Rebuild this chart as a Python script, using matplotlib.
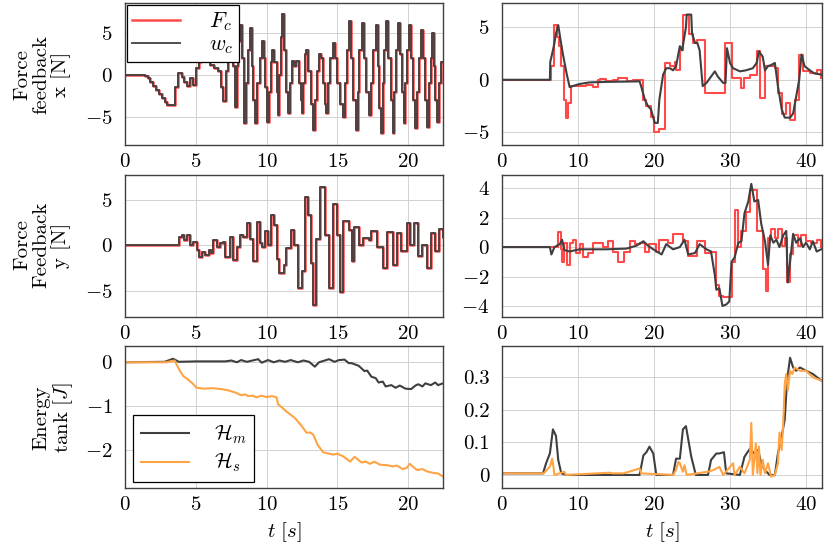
import matplotlib
matplotlib.use('Agg')
import matplotlib.pyplot as plt

plt.rcParams['font.family'] = 'serif'
plt.rcParams['font.serif'] = ['cmr10', 'DejaVu Serif']
plt.rcParams['mathtext.fontset'] = 'cm'
plt.rcParams['axes.formatter.use_mathtext'] = True
plt.rcParams['font.size'] = 15

# colours
RED = '#ff4a4a'
GRAY = '#3f3f3f'
ORANGE = '#ffa444'

# ---- data ----
# left column, 0..22 s : force feedback x (F_c and w_c overlap)
fx_l_t = [0, 1.4, 1.6, 1.8, 2.0, 2.2, 2.4, 2.6, 2.8, 3.0, 3.2, 3.5, 3.75, 4.0, 4.2, 4.4, 4.6, 4.8, 5.0, 5.2,
          5.4, 5.7, 6.0, 6.3, 6.6, 6.8, 6.95, 7.1, 7.3, 7.45, 7.6, 7.75, 7.9, 8.0, 8.1, 8.25, 8.4, 8.55,
          8.7, 8.8, 8.95, 9.05, 9.2, 9.35, 9.5, 9.65, 9.8, 9.9, 10.0, 10.15, 10.3, 10.4, 10.55, 10.7,
          10.8, 10.9, 11.0, 11.1, 11.25, 11.4, 11.5, 11.65, 11.8, 11.95, 12.1, 12.25, 12.4, 12.5, 12.6,
          12.7, 12.8, 12.95, 13.1, 13.25, 13.4, 13.55, 13.7, 13.85, 14.0, 14.1, 14.2, 14.35, 14.5, 14.7,
          14.85, 15.0, 15.15, 15.4, 15.5, 15.65, 15.8, 15.95, 16.1, 16.3, 16.45, 16.55, 16.7, 16.85,
          17.0, 17.2, 17.35, 17.5, 17.7, 17.85, 17.95, 18.05, 18.2, 18.3, 18.45, 18.6, 18.75, 18.9,
          19.0, 19.1, 19.25, 19.4, 19.55, 19.7, 19.8, 19.9, 20.05, 20.2, 20.3, 20.45, 20.6, 20.75, 20.9,
          21.05, 21.15, 21.3, 21.45, 21.6, 21.7, 21.8, 21.9, 22.0, 22.15, 22.3, 22.45]
fx_l_v = [0, -0.1, -0.4, -0.8, -1.3, -1.8, -2.3, -2.8, -3.3, -3.6, -3.6, -1.5, 0.2, -0.3, -0.9, -1.3, -0.4, -1.2,
          0.8, 1.5, 2.8, 1.8, 1.2, 0.8, 0.5, -1.5, -3.1, 0.5, 2.5, 4.0, 1.0, -3.8, 1.0, 4.0, 6.0, 2.0,
          -5.8, -1.0, 3.0, 5.6, 1.0, -3.0, -5.8, -1.0, 2.0, 4.0, 2.0, -1.5, -5.6, -2.0, 1.5, 3.0, 1.5,
          -2.0, -4.8, 0.0, 4.5, 7.3, 3.0, -2.0, -4.6, -1.0, 1.6, 1.0, 1.7, -1.0, -3.0, -4.6, -1.0, 2.5,
          3.0, 0.5, -3.5, -6.6, -3.0, 0.5, 2.5, 2.0, -1.0, -3.5, -4.6, -1.0, 2.0, 3.8, 2.0, -1.0, -3.5,
          -5.0, -1.0, 3.0, 6.4, 2.0, -3.0, -6.6, -2.0, 3.0, 6.2, 2.0, -2.0, -4.8, -1.0, 3.0, 6.0, 1.0,
          -4.0, -7.0, -1.0, 3.0, 6.4, 2.0, -3.0, -7.0, -2.0, 3.0, 6.2, 2.5, -2.0, -5.8, -1.0, 3.0, 6.0,
          2.0, -3.0, -6.4, -2.0, 2.0, 5.4, 2.0, -3.0, -6.2, -1.0, 2.0, 5.0, 1.0, -3.0, -5.6, -1.0, 1.5, 1.5]

# left column : force feedback y
fy_l_t = [0, 3.5, 3.8, 4.0, 4.2, 4.35, 4.6, 4.8, 5.06, 5.2, 5.45, 5.65, 5.9, 6.07, 6.24, 6.5, 6.7, 6.9,
          7.06, 7.4, 7.65, 7.9, 8.1, 8.35, 8.6, 8.8, 9.06, 9.3, 9.5, 9.7, 9.9, 10.1, 10.3, 10.5, 10.7,
          10.9, 11.2, 11.4, 11.7, 11.9, 12.2, 12.5, 12.7, 12.9, 13.1, 13.3, 13.5, 13.8, 14.1, 14.4,
          14.7, 15.0, 15.2, 15.4, 15.8, 16.0, 16.2, 16.5, 16.8, 17.2, 17.4, 17.8, 18.2, 18.5, 18.9,
          19.2, 19.5, 19.9, 20.1, 20.4, 20.7, 21.0, 21.3, 21.6, 21.9, 22.2, 22.45]
fy_l_v = [0, 0, 0.9, 1.1, 0.55, 1.1, 0.0, 0.35, -0.55, -1.3, -0.8, -1.1, -0.55, -0.9, 0.55, -0.2, 0.2, 0.35,
          -1.3, 0.9, -1.6, -0.2, 1.1, 0.9, 2.4, 0.7, -1.8, 2.55, 0.2, -0.2, 1.5, 0.0, 3.3, 2.2, -1.5,
          -3.1, -2.2, -0.3, 1.7, 0.0, -4.7, -2.8, 5.3, 3.3, -2.0, -6.6, 0.7, 6.4, 1.1, -4.7,
          4.5, 1.1, -5.1, 2.6, 1.7, -1.7, 2.0, 0.0, 0.8, 0.6, 1.6, -0.2, -2.5, 1.4, -2.2,
          1.3, -0.6, 2.4, 0.0, 2.4, -1.2, 0.0, -2.5, 1.3, -0.7, 1.8, 0.9]

# right column, 0..42 s : force feedback x
fx_r_red_t = [0, 6.3, 6.5, 6.9, 7.2, 7.5, 7.8, 8.1, 8.4, 8.7, 9.1, 9.8, 11.1, 12.0, 12.6, 12.9, 13.7,
              14.6, 15.3, 16.4, 17.2, 18.1, 18.5, 19.0, 19.6, 20.0, 20.7, 21.4, 22.1, 22.7, 22.9, 23.4,
              23.8, 24.5, 24.6, 25.1, 25.6, 26.0, 26.7, 28.2, 29.3, 30.2, 31.5, 31.9, 32.6, 33.5, 34.0,
              34.6, 35.2, 35.9, 36.3, 36.8, 37.4, 37.9, 38.5, 39.1, 39.6, 40.5, 41.4, 42.0]
fx_r_red_v = [0, 0, 1.3, 5.2, 4.1, 3.2, 1.3, -1.9, -3.6, -2.2, -0.6, -0.6, -0.5, -0.7, -0.05, 0.1, -0.15,
              0, 0.15, -0.1, 0, 0, -1.9, -2.5, -3.5, -5.0, -4.7, 1.6, 1.3, 1.7, 0.9, 2.8,
              6.2, 6.2, 4.4, 3.5, 3.8, 3.8, -1.3, -1.3, 3.5, 0.15, -0.8, 0.15, 0.5, 2.7, -1.7,
              1.3, 1.3, 1.1, -1.3, -3.3, -2.2, -3.8, -1.9, 2.4, 0.8, 0.6, 0.9, 0.15]
fx_r_gray_t = [0, 6.3, 6.35, 6.7, 6.9, 7.1, 7.4, 7.7, 8.0, 8.5, 8.9, 9.3, 10.2, 11.5, 13.7, 18.1, 18.3,
               18.8, 19.2, 19.6, 20.1, 20.5, 20.7, 21.2, 21.6, 22.1, 22.5, 22.9, 23.4, 23.7, 24.2, 24.3,
               24.9, 25.0, 25.4, 25.7, 26.0, 26.4, 26.9, 27.5, 28.0, 28.4, 29.1, 29.4, 29.6, 30.0, 30.4,
               31.3, 32.1, 33.0, 33.5, 33.8, 34.3, 34.6, 35.0, 35.4, 35.9, 36.3, 36.8, 37.2, 37.9, 38.3,
               38.7, 39.1, 39.4, 39.8, 40.5, 41.1, 42.0]
fx_r_gray_v = [0, 0, 1.7, 2.8, 3.5, 4.4, 5.2, 3.8, 2.5, 0.6, -0.7, -0.6, -0.4, -0.25, -0.2, -0.15, -0.6,
               -1.9, -2.5, -2.8, -4.1, -4.1, -1.9, 0.5, 1.1, 1.1, 0.9, 1.3, 3.2, 2.8, 5.0, 6.2,
               6.2, 4.4, 3.5, 3.5, 2.8, -0.6, -0.3, 0.3, 0.8, 0.3, -0.3, -0.3, 3.0, 1.6, 1.1,
               0.8, 0.9, 1.1, 1.6, 2.7, 2.2, 0.9, 1.3, 1.4, 1.6, -0.6, -2.8, -3.6, -3.6, -3.2,
               -1.6, 0.0, 2.4, 1.3, 0.9, 0.6, 0.5]

# right column : force feedback y
fy_r_red_t = [0, 7.2, 7.4, 7.7, 7.9, 8.2, 8.6, 8.9, 9.3, 9.7, 10.2, 10.7, 11.3, 12.0, 13.3, 13.9, 14.6,
              15.3, 16.1, 16.8, 17.5, 18.1, 18.8, 19.4, 20.3, 20.7, 21.8, 22.5, 23.8, 24.5, 25.6, 26.0,
              26.7, 27.5, 28.2, 28.6, 29.1, 30.0, 30.2, 30.6, 31.1, 31.5, 32.1, 32.6, 33.2, 33.5, 33.9,
              34.3, 34.7, 35.0, 35.4, 35.9, 36.3, 36.8, 37.2, 37.5, 37.9, 38.3, 38.9, 39.4, 40.0, 40.7,
              41.4, 42.0]
fy_r_red_v = [0, 0, 1.0, -0.15, -1.0, 0.3, -1.2, 0.3, 0.5, -0.4, 0.2, -0.7, -0.4, 0.3, 0, 0.4, -0.3,
              -1.0, -0.3, 0.4, 0.2, 0.3, -0.3, 0.2, -0.3, 0.5, 0.3, 0.9, 0.4, -0.6, 0.4, 0.4,
              -0.4, -0.3, -2.6, -3.3, -3.4, -3.4, -1.0, 2.5, 0, 1.1, 2.4, 3.9, 3.9, 1.1, 1.1,
              -1.5, -3.0, 0.6, 1.2, 0.6, 1.2, 0.1, 0.6, -2.4, -0.5, 0.8, 0.1, 0.8, 0.4, 0.3,
              0.5, 0]
fy_r_gray_t = [0, 6.3, 6.5, 6.9, 7.6, 7.9, 8.2, 8.9, 10.2, 13.7, 16.4, 17.7, 18.6, 19.2, 19.9, 21.0,
               21.6, 22.5, 23.4, 24.0, 24.5, 25.4, 26.0, 26.9, 27.5, 28.0, 28.2, 28.6, 29.0, 29.5, 29.9,
               30.2, 30.6, 31.1, 31.5, 31.9, 32.4, 32.8, 33.2, 33.7, 34.1, 34.6, 35.0, 35.3, 35.7, 36.1,
               36.5, 37.0, 37.4, 37.6, 37.9, 38.3, 38.7, 39.2, 39.6, 40.0, 40.5, 40.9, 41.4, 42.0]
fy_r_gray_v = [0, 0, -0.5, 0, 0.2, 0.5, -0.2, -0.3, -0.15, -0.15, -0.1, 0.1, 0.4, 0.1, -0.15, -0.5,
               0.2, -0.15, 0, 0.5, -0.5, -0.4, 0.2, -0.15, -0.3, -1.9, -2.9, -2.8, -4.0, -3.9, -3.7,
               -1.0, -0.7, 0.3, 0.4, 2.3, 3.1, 4.3, 3.1, 3.2, 1.6, 0.4, -1.2, 0.8, 0.3, 0.5,
               0, 0.8, 1.1, -2.4, -1.0, 0.9, 0.3, 0.6, 0, 0.3, -0.15, 0.4, -0.3, -0.15]

# energy tanks, left column
hm_l_t = [0, 2.8, 3.4, 3.8, 5.0, 7.1, 7.5, 7.9, 8.2, 8.6, 9.0, 9.4, 9.65, 10.1, 10.5, 10.9, 11.3, 11.7,
          12.2, 12.6, 13.0, 13.4, 13.7, 14.0, 14.4, 14.8, 15.1, 15.5, 15.8, 16.0, 16.5, 16.9, 17.1,
          17.4, 17.7, 17.9, 18.2, 18.4, 18.8, 19.1, 19.4, 19.8, 20.2, 20.5, 20.7, 21.0, 21.2, 21.6,
          21.9, 22.1, 22.45]
hm_l_v = [0, 0.01, 0.08, 0.01, 0.02, 0.02, 0.04, 0.0, 0.05, 0.01, 0.04, 0.07, -0.01, 0.05, 0.0, 0.04, 0.01,
          0.05, 0.0, 0.04, 0.01, -0.1, 0.0, 0.03, 0.07, 0.01, 0.05, 0.06, -0.02, -0.02, -0.08, -0.2, -0.19,
          -0.33, -0.36, -0.46, -0.44, -0.55, -0.52, -0.58, -0.53, -0.6, -0.61, -0.53, -0.5, -0.55, -0.48,
          -0.52, -0.46, -0.52, -0.48]
hs_l_t = [0, 2.9, 3.5, 3.8, 4.1, 4.4, 4.7, 5.06, 5.6, 6.2, 6.8, 7.3, 7.8, 8.2, 8.5, 8.7, 9.0, 9.3, 9.6,
          10.0, 10.4, 10.7, 10.8, 11.4, 12.0, 12.5, 12.8, 13.1, 13.3, 13.6, 14.0, 14.7, 15.0, 15.4,
          15.9, 16.2, 16.7, 17.0, 17.3, 17.6, 18.0, 18.5, 18.9, 19.2, 19.6, 19.9, 20.1, 20.6, 21.0,
          21.3, 21.8, 22.1, 22.45]
hs_l_v = [0, 0, 0.04, -0.15, -0.31, -0.38, -0.46, -0.58, -0.6, -0.59, -0.61, -0.64, -0.69, -0.75, -0.73, -0.77,
          -0.76, -0.8, -0.76, -0.79, -0.77, -0.8, -0.95, -1.12, -1.27, -1.46, -1.6, -1.6, -1.65, -1.88, -2.05,
          -2.1, -2.08, -2.14, -2.26, -2.15, -2.28, -2.26, -2.31, -2.26, -2.33, -2.34, -2.37, -2.35, -2.43,
          -2.4, -2.31, -2.45, -2.43, -2.48, -2.52, -2.53, -2.6]

# energy tanks, right column
hm_r_t = [0, 5.4, 5.8, 6.3, 6.7, 7.1, 7.4, 7.8, 8.5, 18.1, 18.6, 19.0, 19.4, 19.9, 20.3, 22.5, 22.9, 23.4,
          23.8, 24.2, 24.5, 24.9, 25.5, 27.1, 27.5, 28.2, 28.6, 29.2, 29.5, 31.3, 31.9, 32.6, 33.2, 33.7,
          34.1, 34.6, 35.2, 35.9, 36.3, 36.8, 37.2, 37.5, 37.9, 38.3, 38.7, 39.2, 40.0, 40.9, 42.0]
hm_r_v = [0.005, 0.005, 0.036, 0.066, 0.14, 0.12, 0.046, 0.005, 0.0, 0.0, 0.06, 0.07, 0.087, 0.066, 0.0, 0.0,
          0.05, 0.05, 0.14, 0.15, 0.11, 0.056, 0.0, 0.0, 0.046, 0.066, 0.066, 0.07, 0.005, 0.0, 0.056, 0.08,
          0.066, 0.077, 0.036, 0.015, 0.0, 0.0, 0.066, 0.12, 0.17, 0.29, 0.36, 0.33, 0.32, 0.33, 0.32, 0.31, 0.29]
hs_r_t = [0, 5.5, 6.3, 6.6, 6.8, 6.9, 8.2, 8.4, 14.2, 14.5, 16.0, 18.1, 18.3, 22.5, 22.9, 23.2, 23.4, 23.8,
          24.0, 24.3, 27.1, 27.8, 28.6, 29.1, 30.4, 30.6, 31.3, 31.9, 32.6, 32.8, 33.0, 33.4, 33.6, 33.8,
          34.0, 34.3, 34.6, 35.0, 35.4, 35.9, 36.3, 36.5, 36.8, 37.0, 37.2, 37.4, 37.6, 37.9, 38.2,
          38.5, 39.2, 40.0, 40.9, 42.0]
hs_r_v = [0.005, 0.005, 0.026, 0.05, 0.02, 0.0, 0.01, 0.0, 0.007, 0.005, 0.005, 0.02, 0.005, 0.0, 0.015, 0.04,
          0.036, 0.01, 0.03, 0.0, 0.01, 0.015, 0.025, 0.0, 0.036, 0.0, 0.025, 0.005, 0.046, 0.16, 0.0,
          0.097, 0.005, 0.087, 0.0, 0.046, 0.005, 0.036, -0.005, 0.0, 0.036, 0.13, 0.077, 0.16, 0.28,
          0.31, 0.26, 0.32, 0.31, 0.33, 0.32, 0.32, 0.30, 0.29]

# ---- figure ----
fig = plt.figure(figsize=(8.3, 5.49), dpi=100)
xl, wl = 125 / 830, 318 / 830
xr, wr = 502 / 830, 320 / 830
h = 142 / 549
rows = [1 - 145 / 549, 1 - 317 / 549, 1 - 488 / 549]

axes = {}
for i, y0 in enumerate(rows):
    axes[(i, 0)] = fig.add_axes([xl, y0, wl, h])
    axes[(i, 1)] = fig.add_axes([xr, y0, wr, h])

for (i, j), ax in axes.items():
    ax.grid(True, color='#d2d2d2', lw=0.7)
    ax.set_axisbelow(True)
    for s in ax.spines.values():
        s.set_color('#404040')
        s.set_linewidth(1.0)
    ax.tick_params(length=0, pad=6)
    ax.tick_params(axis='y', pad=9)
    if j == 0:
        ax.set_xlim(0, 22.45)
        ax.set_xticks([0, 5, 10, 15, 20])
    else:
        ax.set_xlim(0, 42.1)
        ax.set_xticks([0, 10, 20, 30, 40])

# row 1
ax = axes[(0, 0)]
l1, = ax.plot(fx_l_t, fx_l_v, color=RED, lw=1.8, drawstyle='steps-post', label=r'$F_c$')
l2, = ax.plot(fx_l_t, fx_l_v, color=GRAY, lw=1.4, alpha=0.92, drawstyle='steps-post', label=r'$w_c$')
ax.set_ylim(-8.4, 8.6)
ax.set_yticks([-5, 0, 5])
leg = ax.legend(handles=[l1, l2], loc='upper left', bbox_to_anchor=(0.0, 1.0), fancybox=False,
                edgecolor='black', framealpha=1, handlelength=2.3, borderpad=0.25,
                labelspacing=0.1, handletextpad=1.4, borderaxespad=0.1)
leg.get_frame().set_linewidth(0.9)
for t in leg.get_texts():
    t.set_fontsize(16)

ax = axes[(0, 1)]
ax.plot(fx_r_red_t, fx_r_red_v, color=RED, lw=1.5, drawstyle='steps-post')
ax.plot(fx_r_gray_t, fx_r_gray_v, color=GRAY, lw=1.5)
ax.set_ylim(-6.2, 7.3)
ax.set_yticks([-5, 0, 5])

# row 2
ax = axes[(1, 0)]
ax.plot(fy_l_t, fy_l_v, color=RED, lw=1.8, drawstyle='steps-post')
ax.plot(fy_l_t, fy_l_v, color=GRAY, lw=1.4, alpha=0.92, drawstyle='steps-post')
ax.set_ylim(-7.9, 7.7)
ax.set_yticks([-5, 0, 5])

ax = axes[(1, 1)]
ax.plot(fy_r_red_t, fy_r_red_v, color=RED, lw=1.5, drawstyle='steps-post')
ax.plot(fy_r_gray_t, fy_r_gray_v, color=GRAY, lw=1.5)
ax.set_ylim(-4.75, 4.9)
ax.set_yticks([-4, -2, 0, 2, 4])

# row 3
ax = axes[(2, 0)]
a1, = ax.plot(hm_l_t, hm_l_v, color=GRAY, lw=1.5, label=r'$\mathcal{H}_m$')
a2, = ax.plot(hs_l_t, hs_l_v, color=ORANGE, lw=1.5, label=r'$\mathcal{H}_s$')
ax.set_ylim(-2.86, 0.37)
ax.set_yticks([-2, -1, 0])
leg = ax.legend(handles=[a1, a2], loc='lower left', bbox_to_anchor=(0.02, 0.03), fancybox=False,
                edgecolor='black', framealpha=1, handlelength=2.3, borderpad=0.35,
                labelspacing=0.25, handletextpad=1.2, borderaxespad=0.1)
leg.get_frame().set_linewidth(0.9)
ax.set_xlabel(r'$t\ [s]$', labelpad=4)

ax = axes[(2, 1)]
ax.plot(hm_r_t, hm_r_v, color=GRAY, lw=1.5)
ax.plot(hs_r_t, hs_r_v, color=ORANGE, lw=1.5)
ax.set_ylim(-0.04, 0.396)
ax.set_yticks([0, 0.1, 0.2, 0.3])
ax.set_yticklabels(['0', '0.1', '0.2', '0.3'])
ax.set_xlabel(r'$t\ [s]$', labelpad=4)

# y labels
fig.text(42 / 830, 1 - 74 / 549, 'Force\nfeedback\nx [N]', rotation=90, ha='center', va='center',
         multialignment='center', linespacing=1.05)
fig.text(42 / 830, 1 - 245 / 549, 'Force\nFeedback\ny [N]', rotation=90, ha='center', va='center',
         multialignment='center', linespacing=1.05)
fig.text(54 / 830, 1 - 418 / 549, 'Energy\ntank [$J$]', rotation=90, ha='center', va='center',
         multialignment='center', linespacing=1.05)

fig.savefig('out.png', dpi=100)
